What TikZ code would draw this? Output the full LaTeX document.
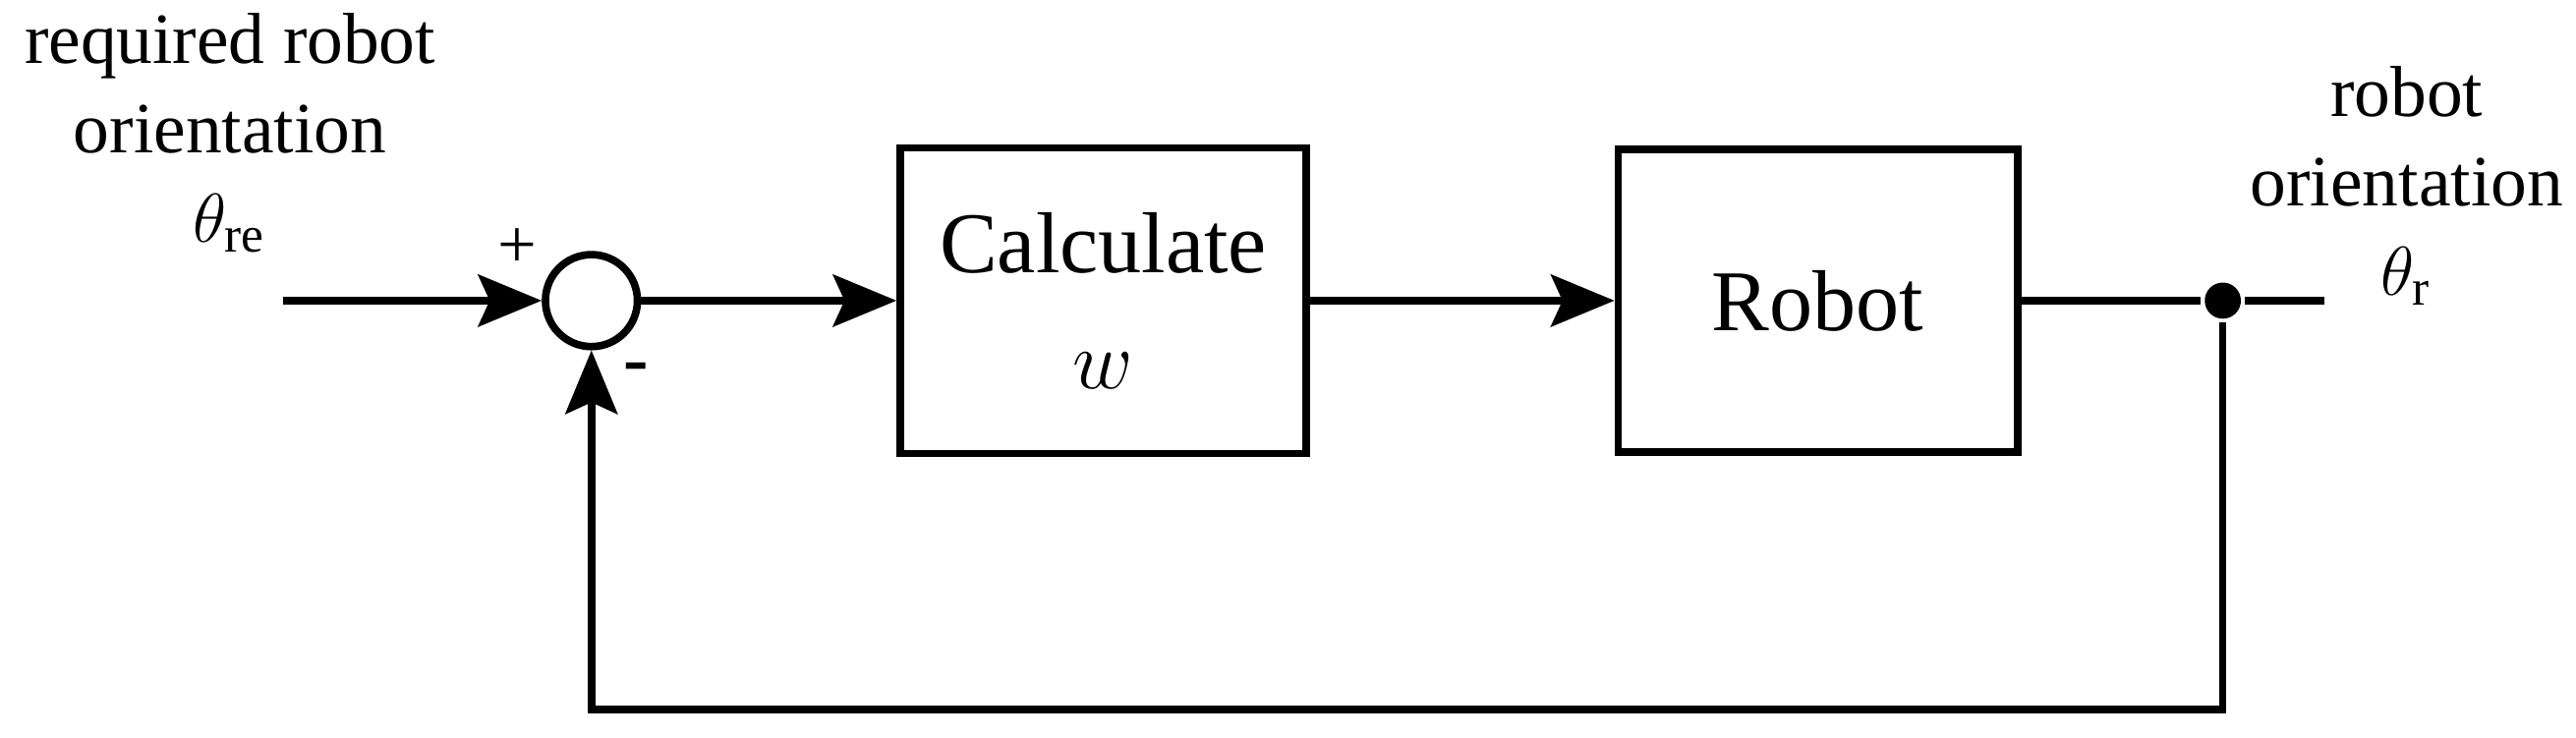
\documentclass[tikz,border=0pt]{standalone}
\usepackage{fontspec}
\setmainfont{Liberation Serif}
\usetikzlibrary{arrows.meta}
\begin{document}
\begin{tikzpicture}[
  line width=1.3pt,
  blk/.style={draw,minimum width=2.47cm,minimum height=1.86cm,align=center,font=\fontsize{15}{18}\selectfont},
  arr/.style={-{Stealth[length=11pt,width=9pt,inset=2pt]}},
  lbl/.style={align=center,font=\fontsize{12.5}{15.5}\selectfont}]
\useasboundingbox (0,0) rectangle (15.68,4.49);
\node[draw,circle,minimum size=0.56cm,inner sep=0] (s) at (3.60,2.66) {};
\node[blk] (c) at (6.715,2.66) {Calculate\\[2pt]$w$};
\node[blk,minimum width=2.43cm,minimum height=1.84cm] (r) at (11.065,2.66) {Robot};
\coordinate (in) at (1.72,2.66);
\node[circle,fill,inner sep=0,minimum size=0.22cm] (d) at (13.53,2.66) {};
\coordinate (out) at (14.15,2.66);
\coordinate (fb) at (13.53,0.17);
\coordinate (fb2) at (3.60,0.17);
\draw[arr] (in) -- (s);
\draw[arr] (s) -- (c);
\draw[arr] (c) -- (r);
\draw (r) -- (d) -- (out);
\draw[arr] (d) -- (fb) -- (fb2) -- (s);
\node[lbl] (t1) at (1.40,3.68) {required robot\\orientation\\$\theta_{\mathrm{re}}$};
\node[lbl] (t2) at (14.65,3.36) {robot\\orientation\\$\theta_{\mathrm{r}}$};
\node[font=\fontsize{12}{14}\selectfont] (p) at (3.15,2.98) {+};
\node[font=\fontsize{13}{14}\selectfont\bfseries] (m) at (3.87,2.22) {-};
\end{tikzpicture}
\end{document}
